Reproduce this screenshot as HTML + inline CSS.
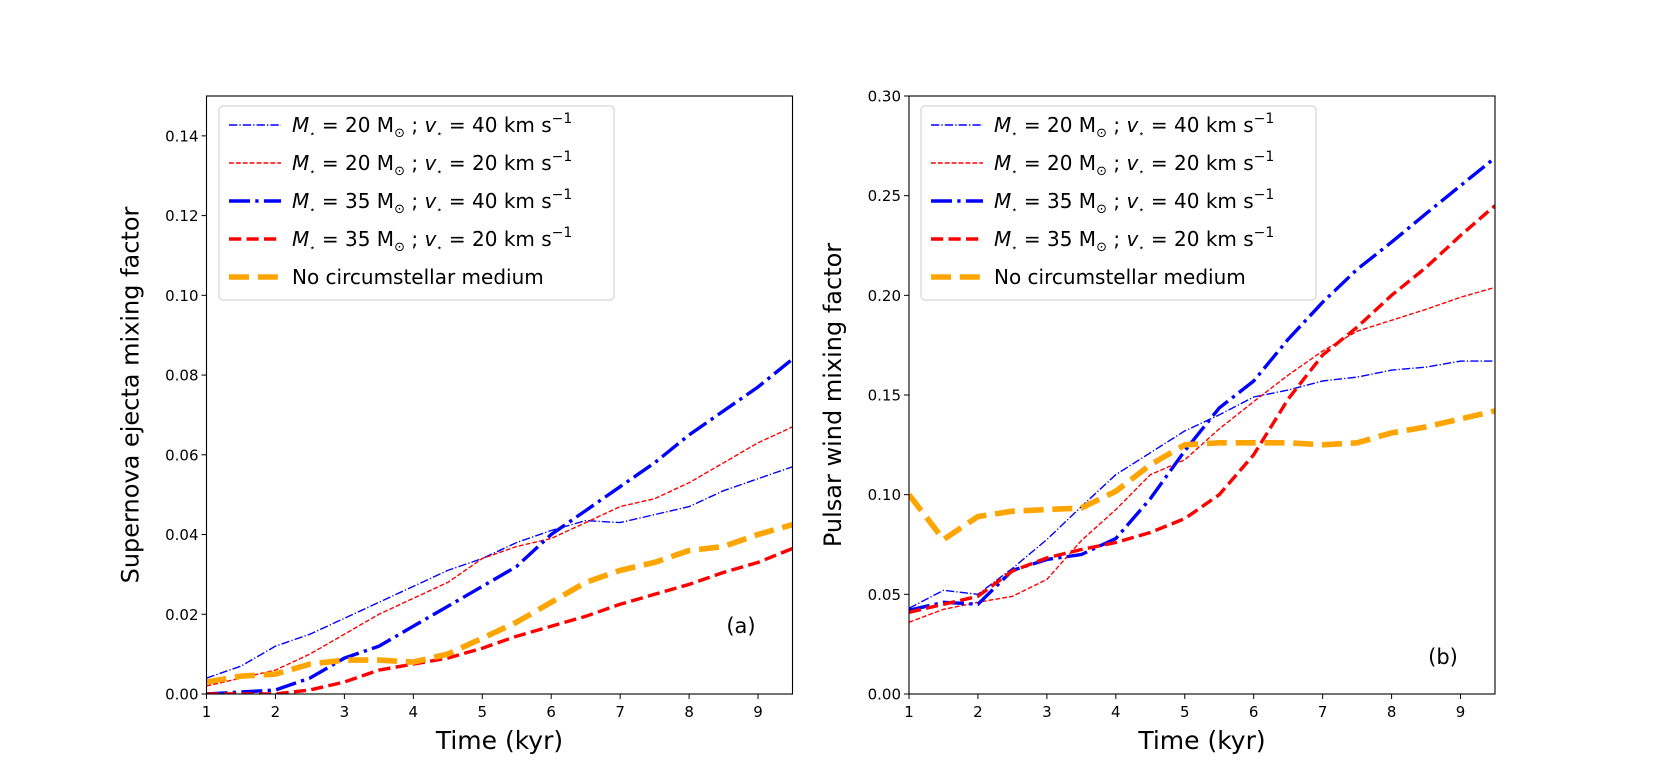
<!DOCTYPE html>
<html><head><meta charset="utf-8">
<style>
html,body{margin:0;padding:0;background:#fff;}
svg{display:block;font-family:"DejaVu Sans","Liberation Sans",sans-serif;}
</style></head>
<body>
<svg id="fig" width="1661" height="779" viewBox="0 0 1661 779" xmlns="http://www.w3.org/2000/svg"></svg>
<script>
const times = [1,1.5,2,2.5,3,3.5,4,4.5,5,5.5,6,6.5,7,7.5,8,8.5,9,9.5];
const xTicks = [1,2,3,4,5,6,7,8,9];
const yTicksA = [0,0.02,0.04,0.06,0.08,0.10,0.12,0.14];
const yTicksB = [0,0.05,0.10,0.15,0.20,0.25,0.30];
const snA = [0.004,0.007,0.012,0.015,0.019,0.023,0.027,0.031,0.034,0.038,0.041,0.0435,0.043,0.045,0.047,0.051,0.054,0.057];
const snB = [0.002,0.004,0.006,0.010,0.015,0.020,0.024,0.028,0.034,0.037,0.039,0.043,0.047,0.049,0.053,0.058,0.063,0.067];
const snC = [0.000,0.0005,0.001,0.004,0.009,0.012,0.017,0.022,0.027,0.032,0.040,0.046,0.052,0.058,0.065,0.071,0.077,0.084];
const snD = [0.000,0.000,0.000,0.001,0.003,0.006,0.0075,0.009,0.0115,0.0145,0.017,0.0195,0.0225,0.025,0.0275,0.0305,0.033,0.0365];
const snE = [0.003,0.0045,0.005,0.0075,0.0085,0.0085,0.008,0.010,0.014,0.018,0.023,0.028,0.031,0.033,0.036,0.037,0.040,0.0425];
const pwA = [0.043,0.052,0.050,0.063,0.0775,0.094,0.110,0.121,0.132,0.140,0.149,0.1525,0.157,0.159,0.1625,0.164,0.167,0.167];
const pwB = [0.036,0.0425,0.046,0.049,0.0575,0.077,0.0925,0.110,0.1175,0.133,0.1467,0.160,0.172,0.182,0.1875,0.193,0.199,0.204];
const pwC = [0.042,0.046,0.045,0.062,0.0675,0.070,0.078,0.098,0.122,0.1435,0.157,0.178,0.1965,0.213,0.2267,0.241,0.255,0.269];
const pwD = [0.041,0.045,0.049,0.0617,0.0683,0.0725,0.076,0.081,0.088,0.100,0.120,0.148,0.170,0.184,0.200,0.214,0.230,0.245];
const pwE = [0.100,0.0775,0.089,0.0917,0.0925,0.0933,0.1017,0.115,0.125,0.126,0.126,0.126,0.125,0.126,0.131,0.134,0.138,0.142];
const legendLabels = [["20","40"],["20","20"],["35","40"],["35","20"]];

const NS = "http://www.w3.org/2000/svg";
const svg = document.getElementById('fig');
function mk(tag, attrs, parent){
  const e = document.createElementNS(NS, tag);
  for (const k in attrs) e.setAttribute(k, attrs[k]);
  (parent||svg).appendChild(e);
  return e;
}
const styles = [
  {stroke:"#0000ff", w:1.4, dash:"8.3 2.1 1.3 2.1"},
  {stroke:"#ff0000", w:1.4, dash:"4.8 2.1"},
  {stroke:"#0000ff", w:3.4, dash:"21 5.3 3.3 5.3"},
  {stroke:"#ff0000", w:3.4, dash:"12.2 5.3"},
  {stroke:"#ffa500", w:5.6, dash:"20 8.8"}
];
const names = ["m20-v40","m20-v20","m35-v40","m35-v20","no-csm"];

function panel(cfg){
  const {x0,x1,y0,y1,ymax,yTicks,fmt,series,ylabel,tag,tagX,tagY,legX,id} = cfg;
  const g = mk('g',{});
  
  
  const sx = t => x0 + (t-1)/(9.5-1)*(x1-x0);
  const sy = v => y0 - v/ymax*(y0-y1);
  const clipId = id+'clip';
  const defs = mk('defs',{},g);
  const cp = mk('clipPath',{id:clipId},defs);
  mk('rect',{x:x0,y:y1,width:x1-x0,height:y0-y1},cp);
  const lines = mk('g',{'clip-path':`url(#${clipId})`},g);
  series.forEach((s,i)=>{
    const d = s.map((v,j)=>(j?'L':'M')+sx(times[j]).toFixed(1)+' '+sy(v).toFixed(1)).join(' ');
    const p = mk('path',{d:d,fill:'none',stroke:styles[i].stroke,'stroke-width':styles[i].w,'stroke-dasharray':styles[i].dash},lines);
    
    
  });
  const fr = mk('rect',{x:x0,y:y1,width:x1-x0,height:y0-y1,fill:'none',stroke:'#000','stroke-width':1.1},g);
  
  
  xTicks.forEach(t=>{
    const x = sx(t);
    mk('line',{x1:x,x2:x,y1:y0,y2:y0+5,stroke:'#000','stroke-width':1},g);
    const tx = mk('text',{x:x,y:y0+23,'font-size':15,'text-anchor':'middle'},g);
    tx.textContent = t;
    
    
  });
  yTicks.forEach(v=>{
    const y = sy(v);
    mk('line',{x1:x0-5,x2:x0,y1:y,y2:y,stroke:'#000','stroke-width':1},g);
    const tx = mk('text',{x:x0-8,y:y+5.5,'font-size':15,'text-anchor':'end'},g);
    tx.textContent = v.toFixed(fmt);
    
    
  });
  const xl = mk('text',{x:(x0+x1)/2,y:y0+55,'font-size':25,'text-anchor':'middle'},g);
  xl.textContent = 'Time (kyr)';
  
  
  const cy = (y0+y1)/2;
  const yl = mk('text',{x:0,y:0,'font-size':24,'text-anchor':'middle',transform:`translate(${x0-68},${cy}) rotate(-90)`},g);
  yl.textContent = ylabel;
  
  
  const tg = mk('text',{x:tagX,y:tagY,'font-size':21,'text-anchor':'middle'},g);
  tg.textContent = tag;
  
  
  const lg = mk('g',{},g);
  
  
  mk('rect',{x:legX,y:106,width:395,height:194,rx:4,fill:'#fff','fill-opacity':0.8,stroke:'#cccccc','stroke-width':1},lg);
  const rows = [125,163,201,239,277];
  rows.forEach((ry,i)=>{
    const ent = mk('g',{},lg);
    
    
    mk('line',{x1:legX+10,x2:legX+62,y1:ry,y2:ry,stroke:styles[i].stroke,'stroke-width':styles[i].w,'stroke-dasharray':styles[i].dash},ent);
    const t = mk('text',{x:legX+73,y:ry+7,'font-size':20},ent);
    if (i<4){
      const [m,v] = legendLabels[i];
      t.innerHTML = `<tspan font-style="italic">M</tspan><tspan font-size="10" dy="5">⋆</tspan><tspan dy="-5"> = ${m} M</tspan><tspan font-size="13" dy="5">⊙</tspan><tspan dy="-5"> ; </tspan><tspan font-style="italic">v</tspan><tspan font-size="10" dy="5">⋆</tspan><tspan dy="-5"> = ${v} km s</tspan><tspan font-size="14" dy="-9">−1</tspan>`;
    } else {
      t.textContent = 'No circumstellar medium';
    }
  });
}
panel({id:'sn',x0:206.5,x1:792.5,y0:694,y1:96,ymax:0.15,yTicks:yTicksA,fmt:2,
  series:[snA,snB,snC,snD,snE],ylabel:'Supernova ejecta mixing factor',tag:'(a)',tagX:741,tagY:633,legX:219});
panel({id:'pw',x0:909,x1:1495,y0:694,y1:96,ymax:0.30,yTicks:yTicksB,fmt:2,
  series:[pwA,pwB,pwC,pwD,pwE],ylabel:'Pulsar wind mixing factor',tag:'(b)',tagX:1443,tagY:664,legX:921});
</script>
</body></html>
